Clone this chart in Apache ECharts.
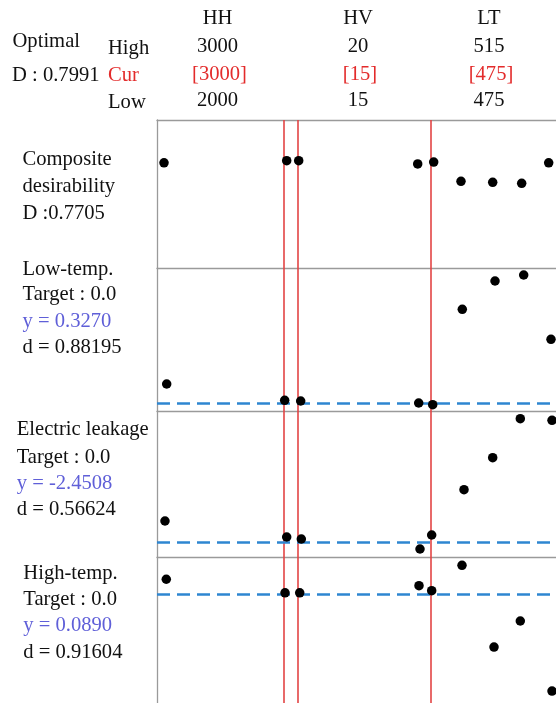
<!DOCTYPE html>
<html>
<head>
<meta charset="utf-8">
<script src="https://cdn.jsdelivr.net/npm/echarts@6/dist/echarts.min.js"></script>
<style>
html,body{margin:0;padding:0;background:#fff;}
#chart{width:556px;height:703px;}
</style>
</head>
<body>
<div id="chart"></div>
<script>
// ---- Data ----
const factors = ['HH', 'HV', 'LT'];
const highVals = ['3000', '20', '515'];
const curVals = ['[3000]', '[15]', '[475]'];
const lowVals = ['2000', '15', '475'];

// current settings (red vertical lines), on common x scale
const curLineX = [30.07, 33.45, 65.24];

// Composite desirability panel
const compositeX = [1.67, 30.88, 33.74, 62.07, 65.88, 72.38, 79.93, 86.83, 93.26];
const compositeY = [0.711, 0.725, 0.725, 0.703, 0.716, 0.586, 0.579, 0.572, 0.711];

// Low-temp. panel
const lowTempX = [2.31, 30.40, 34.21, 62.31, 65.64, 72.69, 80.48, 87.31, 93.81];
const lowTempY = [1.133, 0.449, 0.420, 0.336, 0.264, 4.267, 5.455, 5.706, 3.008];
const lowTempOpt = 0.3270;

// Electric leakage panel
const leakX = [1.90, 30.88, 34.36, 62.62, 65.40, 73.10, 79.93, 86.50, 94.05];
const leakY = [-1.644, -2.247, -2.322, -2.699, -2.171, -0.465, 0.741, 2.210, 2.150];
const leakOpt = -2.4508;

// High-temp. panel
const highTempX = [2.21, 30.48, 33.98, 62.38, 65.40, 72.62, 80.24, 86.50, 94.05];
const highTempY = [0.217, 0.106, 0.106, 0.164, 0.123, 0.332, -0.340, -0.126, -0.702];
const highTempOpt = 0.0890;

// Left labels
const panelLabels = [
  ['Composite', 'desirability', 'D :0.7705'],
  ['Low-temp.', 'Target : 0.0', 'y = 0.3270', 'd = 0.88195'],
  ['Electric leakage', 'Target : 0.0', 'y = -2.4508', 'd = 0.56624'],
  ['High-temp.', 'Target : 0.0', 'y = 0.0890', 'd = 0.91604']
];

// ---- Layout / style ----
const FONT = '20.6px "Liberation Serif", "Times New Roman", serif';
const BLACK = '#111';
const RED = '#e32b2b';
const BLUE = '#5f5fd8';
const DASH = '#2e86d1';
const REDLINE = '#e34444';
const BORDER = '#9a9a9a';

const gridLeft = 157, gridWidth = 399;
const grids = [
  {top: 120, height: 148},
  {top: 268, height: 143},
  {top: 411, height: 146},
  {top: 557, height: 146}
];
const xMax = 95;
const yRanges = [[0, 1], [0, 6], [-3, 2.5], [-0.8, 0.4]];
const panelX = [compositeX, lowTempX, leakX, highTempX];
const panelY = [compositeY, lowTempY, leakY, highTempY];
const panelOpt = [null, lowTempOpt, leakOpt, highTempOpt];

const option = {
  animation: false,
  backgroundColor: '#fff',
  grid: grids.map(g => ({
    left: gridLeft, width: gridWidth, top: g.top, height: g.height, show: false
  })),
  xAxis: grids.map((g, i) => ({
    type: 'value', gridIndex: i, min: 0, max: xMax, position: 'top',
    axisLine: {show: true, onZero: false, lineStyle: {color: BORDER, width: 1.3}},
    axisTick: {show: false}, axisLabel: {show: false}, splitLine: {show: false}
  })),
  yAxis: grids.map((g, i) => ({
    type: 'value', gridIndex: i, min: yRanges[i][0], max: yRanges[i][1], position: 'left',
    axisLine: {show: true, onZero: false, lineStyle: {color: BORDER, width: 1.3}},
    axisTick: {show: false}, axisLabel: {show: false}, splitLine: {show: false}
  })),
  series: [],
  graphic: []
};

for (let i = 0; i < 4; i++) {
  const mlData = curLineX.map(v => ({xAxis: v, lineStyle: {color: REDLINE, width: 1.6, type: 'solid'}}));
  if (panelOpt[i] !== null) {
    mlData.push({yAxis: panelOpt[i], lineStyle: {color: DASH, width: 2.5, type: [13, 7]}});
  }
  option.series.push({
    type: 'scatter', xAxisIndex: i, yAxisIndex: i, data: [], z: 1, silent: true,
    markLine: {silent: true, symbol: ['none', 'none'], label: {show: false}, data: mlData}
  });
  option.series.push({
    type: 'scatter', xAxisIndex: i, yAxisIndex: i, z: 5, silent: true,
    symbol: 'circle', symbolSize: 9.5,
    itemStyle: {color: '#000', opacity: 1},
    data: panelX[i].map((x, k) => [x, panelY[i][k]])
  });
}

// ---- Texts ----
function txt(text, x, y, color, align) {
  option.graphic.push({
    type: 'text', x: x, y: y, silent: true,
    style: {text: text, font: FONT, fill: color || BLACK, align: align || 'left', verticalAlign: 'middle'}
  });
}
// header
const colCenters = [217.5, 358, 489];
const rowY = [47, 75, 101];
txt('Optimal', 12.5, 42);
txt('D : 0.7991', 12, 76);
txt('High', 108, 49);
txt('Cur', 108, 76, RED);
txt('Low', 108, 103);
factors.forEach((f, j) => {
  txt(f, colCenters[j], 19, BLACK, 'center');
  txt(highVals[j], colCenters[j], rowY[0], BLACK, 'center');
  txt(curVals[j], colCenters[j] + 2, rowY[1], RED, 'center');
  txt(lowVals[j], colCenters[j], rowY[2], BLACK, 'center');
});
// left panel labels
const labelX = [22.5, 22.5, 16.7, 23.3];
const labelY = [
  [160, 186.5, 214],
  [269.5, 295, 322, 348],
  [430, 458, 484, 510],
  [574, 600, 626, 653]
];
panelLabels.forEach((lines, i) => {
  lines.forEach((t, k) => {
    const color = (i > 0 && k === 2) ? BLUE : BLACK;
    txt(t, labelX[i], labelY[i][k], color);
  });
});

const chart = echarts.init(document.getElementById('chart'), null, {renderer: 'canvas'});
chart.setOption(option);
</script>
</body>
</html>
